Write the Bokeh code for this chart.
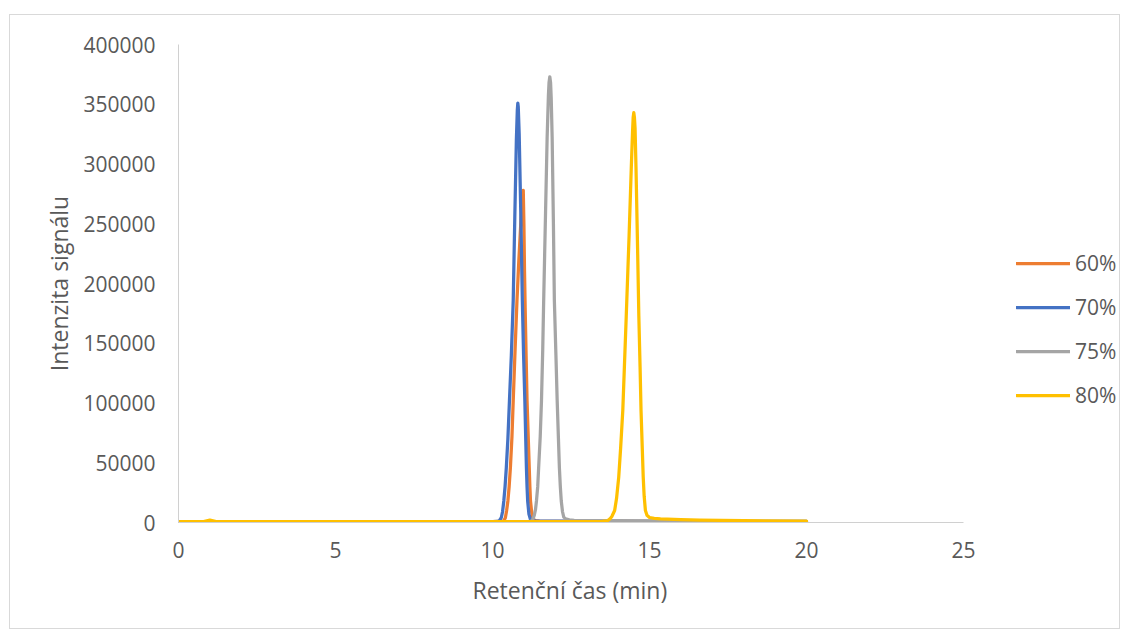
from bokeh.plotting import figure
from bokeh.models import (Range1d, SingleIntervalTicker, NumeralTickFormatter, Legend, LegendItem, Title)
from bokeh.embed import file_html
from bokeh.resources import INLINE

# ---- data ----
series_names = ["60%", "70%", "75%", "80%"]
series_colors = ["#ED7D31", "#4472C4", "#A5A5A5", "#FFC000"]

t60 = [0, 2, 4, 6, 8, 10, 10.30, 10.36, 10.41, 10.45, 10.49, 10.53, 10.57, 10.62, 10.66, 10.72,
       10.78, 10.84, 10.90, 10.95, 10.98, 11.00, 11.02, 11.04, 11.07, 11.10, 11.14, 11.17, 11.19,
       11.21, 11.25, 11.30, 11.38, 11.5, 12, 14, 16, 18, 20]
i60 = [800, 800, 800, 800, 800, 800, 900, 1500, 4000, 10000, 18000, 30000, 46000, 72000, 102000, 145000,
       186000, 220000, 250000, 270000, 278000, 250000, 210000, 180000, 140000, 102000, 70000, 46000, 30000,
       18000, 8000, 2500, 1500, 1200, 1000, 900, 900, 800, 800]

t70 = [0, 2, 4, 6, 8, 10, 10.15, 10.22, 10.28, 10.32, 10.36, 10.40, 10.44, 10.49, 10.54, 10.60,
       10.66, 10.71, 10.76, 10.79, 10.806, 10.82, 10.85, 10.90, 10.95, 10.99, 11.03, 11.06, 11.08,
       11.10, 11.12, 11.16, 11.21, 11.28, 11.4, 12, 14, 16, 18, 20]
i70 = [800, 800, 800, 800, 800, 800, 900, 1500, 4000, 9000, 18000, 30000, 46000, 70000, 102000, 140000,
       186000, 255000, 320000, 345000, 351000, 348000, 325000, 260000, 186000, 140000, 102000, 68000, 46000,
       30000, 18000, 7000, 2500, 1500, 1200, 1200, 1000, 1000, 900, 900]

t75 = [0, 2, 4, 6, 8, 10, 11.0, 11.2, 11.27, 11.33, 11.37, 11.40, 11.44, 11.47, 11.52, 11.56, 11.60,
       11.63, 11.69, 11.74, 11.78, 11.80, 11.825, 11.85, 11.87, 11.90, 11.94, 11.97, 12.02, 12.06,
       12.10, 12.13, 12.16, 12.19, 12.23, 12.27, 12.33, 12.45, 12.6, 13, 14, 16, 18, 20]
i75 = [800, 800, 800, 800, 800, 800, 800, 1000, 1800, 6000, 11000, 18000, 30000, 46000, 72000, 102000, 145000,
       186000, 260000, 322000, 357000, 368000, 373000, 368000, 355000, 322000, 250000, 186000, 140000, 102000,
       70000, 46000, 30000, 18000, 9000, 4500, 3000, 2300, 1800, 1500, 1500, 1200, 1000, 900]

t80 = [0, 0.8, 1.0, 1.2, 3, 6, 9, 12, 13.5, 13.65, 13.74, 13.80, 13.89, 13.95, 14.02, 14.08, 14.15,
       14.20, 14.26, 14.35, 14.42, 14.46, 14.48, 14.50, 14.52, 14.54, 14.57, 14.62, 14.66, 14.70,
       14.73, 14.77, 14.80, 14.83, 14.87, 14.92, 15.0, 15.15, 15.35, 16.0, 16.6, 18, 20]
i80 = [800, 800, 2000, 800, 800, 800, 800, 800, 900, 1300, 3000, 5000, 10000, 20000, 38000, 62000, 94000,
       130000, 173000, 240000, 297000, 327000, 339000, 343000, 339000, 330000, 297000, 230000, 173000, 130000,
       94000, 62000, 38000, 22000, 10000, 6000, 4200, 3500, 3000, 2500, 2000, 1500, 1200]

times = [t60, t70, t75, t80]
intensities = [i60, i70, i75, i80]

x_title = "Retenční čas (min)"
y_title = "Intenzita signálu"
x_axis_max = 25

FONT = "Open Sans"
TXT = "#595959"

W, H = 1111, 615
p = figure(width=W, height=H, output_backend="svg", toolbar_location=None,
           x_range=Range1d(0, 30), y_range=Range1d(0, 400000),
           min_border_left=168, min_border_right=1, min_border_top=29, min_border_bottom=108)
p.styles = {"border": "1px solid #D9D9D9", "margin-top": "14px", "margin-left": "9px"}
p.outline_line_color = None
p.background_fill_color = "white"
p.border_fill_color = "white"
p.xgrid.visible = False
p.ygrid.visible = False

p.xaxis.ticker = SingleIntervalTicker(interval=5)
p.xaxis.bounds = (0, x_axis_max)
p.yaxis.ticker = SingleIntervalTicker(interval=50000)
p.yaxis.formatter = NumeralTickFormatter(format="0")

for ax in (p.xaxis[0], p.yaxis[0]):
    ax.axis_line_color = "#D0D0D0"
    ax.axis_line_width = 1
    ax.major_tick_line_color = None
    ax.minor_tick_line_color = None
    ax.major_tick_out = 0
    ax.major_tick_in = 0
    ax.minor_tick_out = 0
    ax.minor_tick_in = 0
    ax.major_label_text_font = FONT
    ax.major_label_text_font_size = "21px"
    ax.major_label_text_color = TXT
    ax.axis_label_text_font = FONT
    ax.axis_label_text_font_size = "23px"
    ax.axis_label_text_color = TXT
    ax.axis_label_text_font_style = "normal"

p.yaxis.axis_label = y_title
p.xaxis.major_label_standoff = 19
p.yaxis.major_label_standoff = 23
p.yaxis.axis_label_standoff = 5

# x-axis title, centred under the 0-25 axis span
xt = Title(text=x_title, align="left", offset=294, standoff=23,
           text_font=FONT, text_font_size="23px", text_color=TXT, text_font_style="normal")
p.add_layout(xt, "below")

items = []
for name, color, t, v in zip(series_names, series_colors, times, intensities):
    r = p.line(t, v, line_color=color, line_width=3.25, line_join="round", line_cap="round")
    items.append(LegendItem(label=name, renderers=[r]))

legend = Legend(items=items, location=(838, 113))
legend.border_line_color = None
legend.background_fill_alpha = 0
legend.padding = 0
legend.margin = 0
legend.spacing = 16
legend.glyph_width = 54
legend.glyph_height = 20
legend.label_height = 20
legend.label_standoff = 5
legend.label_text_font = FONT
legend.label_text_font_size = "21px"
legend.label_text_color = TXT
p.add_layout(legend, "center")

open("out.html", "w").write(file_html(p, INLINE))
